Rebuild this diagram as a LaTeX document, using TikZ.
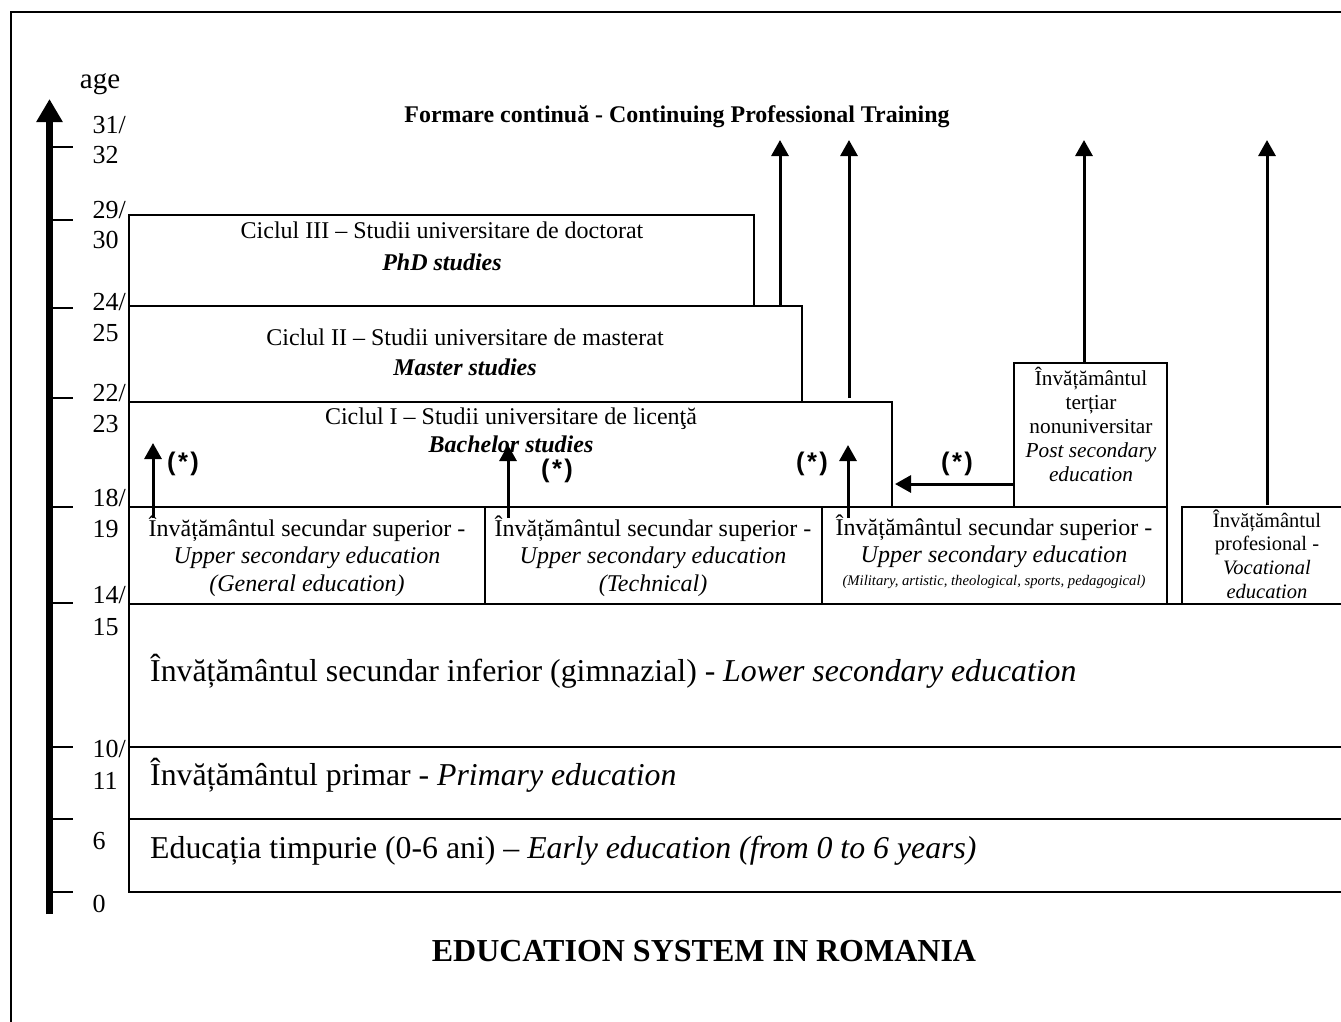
\documentclass[tikz,border=0pt]{standalone}
\usepackage{fontspec}
\setmainfont{Liberation Serif}
\newfontfamily\arialfont{Liberation Sans}
\usetikzlibrary{arrows.meta}

\newcommand\fs[2]{\fontsize{#1}{#2}\selectfont}

\tikzset{
  box/.style={draw, line width=1.8, inner sep=0, outer sep=0, anchor=north west},
  lbl/.style={inner sep=0, align=center, anchor=base, font=\fs{24}{27.5}},
  biglbl/.style={inner sep=0, anchor=base west, font=\fs{31.8}{36}},
  agelbl/.style={inner sep=0, anchor=base west, font=\fs{26}{30}},
  agetick/.style={line width=2.2},
  arr/.style={line width=3, -{Triangle[length=16,width=17]}},
  starlbl/.style={inner sep=0, anchor=base, font=\arialfont\bfseries\fs{25.5}{28}},
}

\begin{document}
\begin{tikzpicture}[x=1pt, y=-1pt]
    \useasboundingbox (0,0) rectangle (1341,1021);
    % Rahmen
    \draw[line width=2] (11,1030) -- (11,12) -- (1350,12);

    % Altersachse
    \draw[line width=7, -{Triangle[length=23,width=25]}] (49.5,914) -- (49.5,99);
    \foreach \y in {147,220,308,398,507,603,747,819,892}
        \draw[agetick] (53,\y) -- (73,\y);
    \node[inner sep=0, anchor=base, font=\fs{29}{33}] (age) at (100,88) {age};
    \node[agelbl] (a31) at (92.5,133) {31/};
    \node[agelbl] (a32) at (92.5,163) {32};
    \node[agelbl] (a29) at (92.5,218) {29/};
    \node[agelbl] (a30) at (92.5,248) {30};
    \node[agelbl] (a24) at (92.5,310) {24/};
    \node[agelbl] (a25) at (92.5,341) {25};
    \node[agelbl] (a22) at (92.5,401) {22/};
    \node[agelbl] (a23) at (92.5,432) {23};
    \node[agelbl] (a18) at (92.5,506) {18/};
    \node[agelbl] (a19) at (92.5,537) {19};
    \node[agelbl] (a14) at (92.5,603) {14/};
    \node[agelbl] (a15) at (92.5,635) {15};
    \node[agelbl] (a10) at (92.5,757) {10/};
    \node[agelbl] (a11) at (92.5,789) {11};
    \node[agelbl] (a6) at (92.5,849) {6};
    \node[agelbl] (a0) at (92.5,912) {0};

    % Stufen
    \node[box, minimum width=625, minimum height=91] (phd) at (129,215) {};
    \node[box, minimum width=673, minimum height=96] (master) at (129,306) {};
    \node[box, minimum width=763, minimum height=105] (bachelor) at (129,402) {};
    \node[box, minimum width=356, minimum height=97] (gen) at (129,507) {};
    \node[box, minimum width=337, minimum height=97] (tech) at (485,507) {};
    \node[box, minimum width=345, minimum height=97] (spec) at (822,507) {};
    \node[box, minimum width=153, minimum height=144] (post) at (1014,363) {};
    \node[box, minimum width=175, minimum height=97] (voc) at (1182,507) {};
    \node[box, minimum width=1230, minimum height=143] (lower) at (129,604) {};
    \node[box, minimum width=1230, minimum height=72] (primary) at (129,747) {};
    \node[box, minimum width=1230, minimum height=73] (early) at (129,819) {};

    % Beschriftung
    \node[inner sep=0, anchor=base, font=\bfseries\fs{23.9}{27}] (cont) at (677,122)
        {Formare continuă - Continuing Professional Training};
    \node[lbl] (phdtxt) at (442,270)
        {Ciclul III – Studii universitare de doctorat\\[4.5pt]\textbf{\textit{PhD studies}}};
    \node[lbl] (mastertxt) at (465,375)
        {Ciclul II – Studii universitare de masterat\\[2.5pt]\textbf{\textit{Master studies}}};
    \node[lbl] (bachelortxt) at (511,452)
        {Ciclul I – Studii universitare de licenţă\\\textbf{\textit{Bachelor studies}}};
    \node[lbl] (gentxt) at (307,591)
        {Învățământul secundar superior -\\\textit{Upper secondary education}\\\textit{(General education)}};
    \node[lbl] (techtxt) at (653,591)
        {Învățământul secundar superior -\\\textit{Upper secondary education}\\\textit{(Technical)}};
    \node[lbl] (spectxt) at (994,585)
        {Învățământul secundar superior -\\\textit{Upper secondary education}\\[-5pt]
         {\fs{14.7}{17}\textit{(Military, artistic, theological, sports, pedagogical)}}};
    \node[lbl, font=\fs{21.3}{24}] (posttxt) at (1091,481)
        {Învățământul\\terțiar\\nonuniversitar\\\textit{Post secondary}\\\textit{education}};
    \node[lbl, font=\fs{20.5}{23.6}] (voctxt) at (1267,598)
        {Învățământul\\profesional -\\\textit{Vocational}\\\textit{education}};
    \node[biglbl] (lowertxt) at (150,681)
        {Învățământul secundar inferior (gimnazial) - \textit{Lower secondary education}};
    \node[biglbl] (primarytxt) at (150,785)
        {Învățământul primar - \textit{Primary education}};
    \node[biglbl] (earlytxt) at (150,858)
        {Educația timpurie (0-6 ani) – \textit{Early education (from 0 to 6 years)}};
    \node[inner sep=0, anchor=base, font=\bfseries\fs{32}{36}] (title) at (704,961)
        {EDUCATION SYSTEM IN ROMANIA};

    % Pfeile
    \coordinate (g1) at (153,518);   \coordinate (g2) at (153,443);
    \coordinate (t1) at (508,518);   \coordinate (t2) at (508,445);
    \coordinate (s1) at (848,518);   \coordinate (s2) at (848,445);
    \coordinate (m1) at (780,306);   \coordinate (m2) at (780,140);
    \coordinate (b1) at (849,398);   \coordinate (b2) at (849,140);
    \coordinate (p1) at (1084,363);  \coordinate (p2) at (1084,140);
    \coordinate (v1) at (1267,505);  \coordinate (v2) at (1267,140);
    \coordinate (p3) at (1014,484);  \coordinate (p4) at (895,484);
    \draw[arr] (g1) -- (g2);
    \draw[arr] (t1) -- (t2);
    \draw[arr] (s1) -- (s2);
    \draw[arr] (m1) -- (m2);
    \draw[arr] (b1) -- (b2);
    \draw[arr] (p1) -- (p2);
    \draw[arr] (v1) -- (v2);
    \draw[arr] (p3) -- (p4);
    \node[starlbl] (st1) at (183,470) {(\kern2.5pt*\kern2.5pt)};
    \node[starlbl] (st2) at (557,477) {(\kern2.5pt*\kern2.5pt)};
    \node[starlbl] (st3) at (812,470) {(\kern2.5pt*\kern2.5pt)};
    \node[starlbl] (st4) at (957,470) {(\kern2.5pt*\kern2.5pt)};
\end{tikzpicture}
\end{document}
